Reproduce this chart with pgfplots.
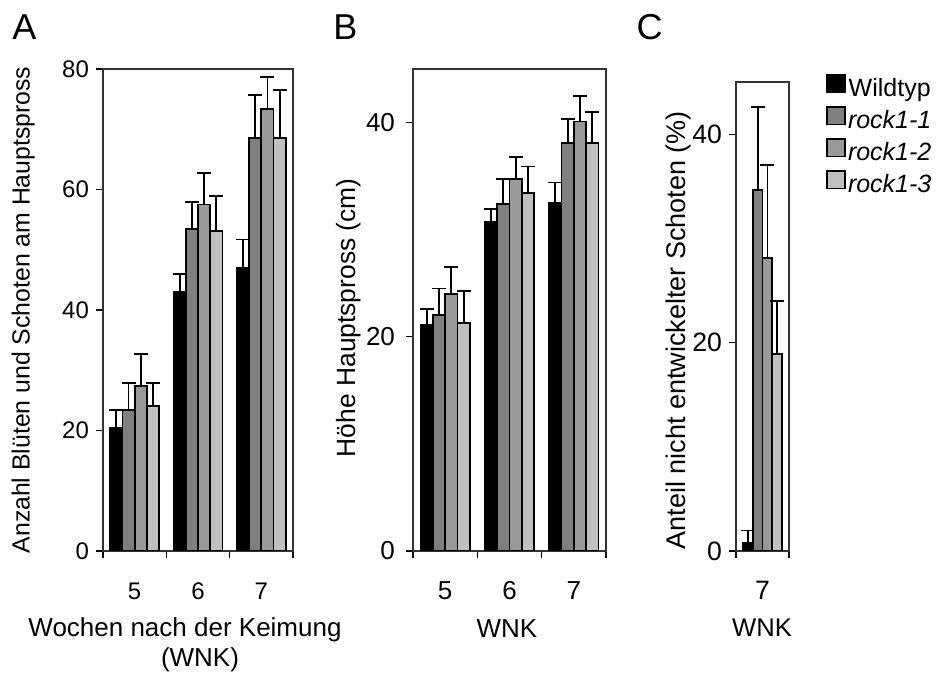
\documentclass[border=0pt]{standalone}
\usepackage{fontspec}
\setmainfont{Liberation Sans}
\usepackage{pgfplots}
\usepackage{pgfplotstable}
\pgfplotsset{compat=1.18}
\definecolor{cA}{HTML}{808080}
\definecolor{cB}{HTML}{999999}
\definecolor{cC}{HTML}{C0C0C0}

\pgfplotstableread{
x wt wte r1 r1e r2 r2e r3 r3e
5 20.5 2.9 23.4 4.5 27.4 5.3 24.0 3.9
6 43.0 3.0 53.4 4.5 57.5 5.2 53.1 5.8
7 47.0 4.7 68.5 7.2 73.4 5.3 68.5 8.0
}\dataA
\pgfplotstableread{
x wt wte r1 r1e r2 r2e r3 r3e
5 21.1 1.5 22.0 2.5 24.0 2.5 21.3 3.0
6 30.7 1.2 32.4 2.3 34.7 2.1 33.4 2.5
7 32.5 1.9 38.1 2.2 40.1 2.4 38.1 2.9
}\dataB
\pgfplotstableread{
x wt wte r1 r1e r2 r2e r3 r3e
7 0.77 1.2 34.6 8.0 28.1 8.9 18.9 5.1
}\dataC

\pgfplotsset{
 panel/.style={
   scale only axis, anchor=south west,
   ybar=0pt,
   ymin=0,
   tick align=outside,
   xtick pos=bottom, ytick pos=left,
   major tick length=3.5pt,
   tick style={black, line width=0.6pt},
   axis line style={black!80, line width=0.7pt},
   /pgf/number format/assume math mode=true,
   xticklabels={},
   extra x tick style={major tick length=0pt, xticklabel style={yshift=-11pt, text height=9.5pt, text depth=0pt}},
   every axis plot/.append style={draw=black, line width=0.9pt,
     /pgfplots/error bars/y dir=plus, /pgfplots/error bars/y explicit,
     /pgfplots/error bars/error mark=-,
     /pgfplots/error bars/error bar style={line width=0.9pt, black},
     /pgfplots/error bars/error mark options={rotate=90, line width=0.9pt, mark size=3.5pt, black}},
 },
}

\begin{document}
\begin{tikzpicture}
\useasboundingbox (0,0) rectangle (471pt,336.5pt);

\node[font=\fontsize{18}{20}\selectfont] at (12.25pt,323pt) {A};
\node[font=\fontsize{18}{20}\selectfont] at (172.75pt,323pt) {B};
\node[font=\fontsize{18}{20}\selectfont] at (324.75pt,323pt) {C};

% Panel A
\begin{axis}[panel, at={(51.5pt,61pt)}, width=95pt, height=241pt,
  bar width=6.1pt,
  xmin=4.5, xmax=7.5, ymax=80,
  xtick={4.5,5.5,6.5,7.5},
  extra x ticks={5,6,7}, extra x tick labels={5,6,7},
  ytick={0,20,40,60,80},
  tick label style={font=\fontsize{12}{14}\selectfont},
  ylabel={Anzahl Blüten und Schoten am Hauptspross},
  ylabel style={font=\fontsize{12.4}{15}\selectfont, at={(axis description cs:-0.42,0.5)}, anchor=center},
  xlabel={Wochen nach der Keimung\\\hspace*{15pt}(WNK)},
  xlabel style={font=\fontsize{13}{15}\selectfont, align=center, at={(axis description cs:0.4316,-0.195)}, anchor=center},
]
\addplot[fill=black] table[x=x, y=wt, y error=wte] {\dataA};
\addplot[fill=cA] table[x=x, y=r1, y error=r1e] {\dataA};
\addplot[fill=cB] table[x=x, y=r2, y error=r2e] {\dataA};
\addplot[fill=cC] table[x=x, y=r3, y error=r3e] {\dataA};
\end{axis}

% Panel B
\begin{axis}[panel, at={(206.5pt,61pt)}, width=96.5pt, height=241pt,
  bar width=6.15pt,
  xmin=4.5, xmax=7.5, ymax=45,
  xtick={4.5,5.5,6.5,7.5},
  extra x ticks={5,6,7}, extra x tick labels={5,6,7},
  ytick={0,20,40},
  tick label style={font=\fontsize{13}{15}\selectfont},
  yticklabel style={xshift=-2pt},
  ylabel={Höhe Hauptspross (cm)},
  ylabel style={font=\fontsize{13.2}{15}\selectfont, at={(axis description cs:-0.335,0.484)}, anchor=center},
  xlabel={WNK},
  xlabel style={font=\fontsize{13}{15}\selectfont, at={(axis description cs:0.487,-0.16)}, anchor=center},
]
\addplot[fill=black] table[x=x, y=wt, y error=wte] {\dataB};
\addplot[fill=cA] table[x=x, y=r1, y error=r1e] {\dataB};
\addplot[fill=cB] table[x=x, y=r2, y error=r2e] {\dataB};
\addplot[fill=cC] table[x=x, y=r3, y error=r3e] {\dataB};
\end{axis}

% Panel C
\begin{axis}[panel, at={(368pt,61pt)}, width=26.5pt, height=234.5pt,
  bar width=4.9pt,
  xmin=6.5, xmax=7.5, ymax=45,
  xtick={6.5,7.5},
  extra x ticks={7}, extra x tick labels={7},
  ytick={0,20,40},
  tick label style={font=\fontsize{13.3}{15}\selectfont},
  ylabel={Anteil nicht entwickelter Schoten (\%)},
  ylabel style={font=\fontsize{13.5}{15}\selectfont, at={(axis description cs:-1.08,0.471)}, anchor=center},
  xlabel={WNK},
  xlabel style={font=\fontsize{12.8}{15}\selectfont, at={(axis description cs:0.49,-0.164)}, anchor=center},
  legend style={draw=none, fill=none, inner sep=0pt, outer sep=0pt, row sep=2pt,
    at={(axis description cs:1.698,1.017)}, anchor=north west,
    nodes={font=\fontsize{12.5}{14}\selectfont, text height=7.6pt, text depth=2.2pt, inner ysep=0.5pt, inner xsep=1.2pt},
    /tikz/every even column/.append style={column sep=0pt}},
  legend image code/.code={\draw[#1, line width=0.8pt] (0pt,-0.6pt) rectangle (9pt,8.2pt);},
]
\addplot[fill=black] table[x=x, y=wt, y error=wte] {\dataC};
\addplot[fill=cA] table[x=x, y=r1, y error=r1e] {\dataC};
\addplot[fill=cB] table[x=x, y=r2, y error=r2e] {\dataC};
\addplot[fill=cC] table[x=x, y=r3, y error=r3e] {\dataC};
\legend{Wildtyp, \textit{rock1-1}, \textit{rock1-2}, \textit{rock1-3}}
\end{axis}
\end{tikzpicture}
\end{document}
